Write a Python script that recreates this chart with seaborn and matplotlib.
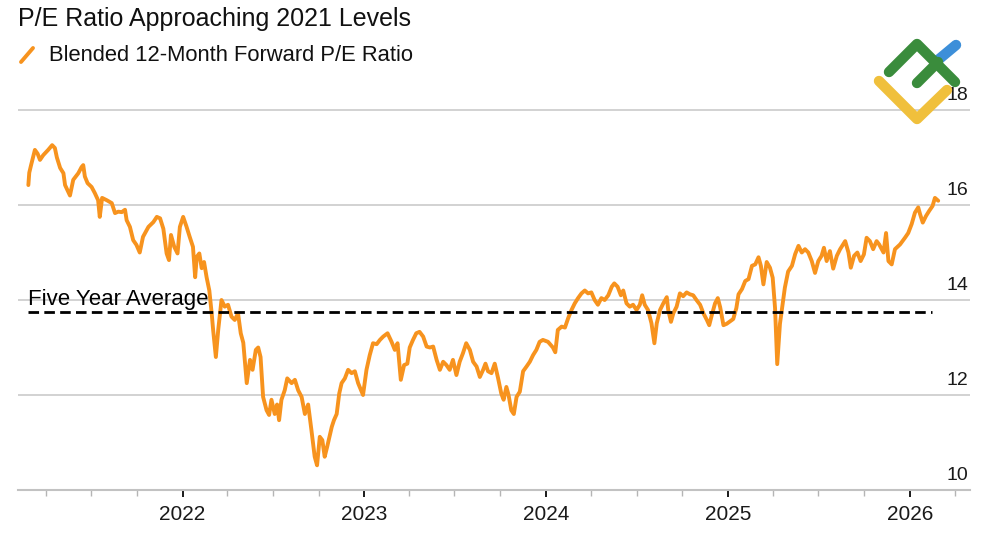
import numpy as np
import pandas as pd
import matplotlib
matplotlib.use("Agg")
import matplotlib.pyplot as plt
import matplotlib.dates as mdates
import matplotlib.transforms as mtransforms
from matplotlib.lines import Line2D
import seaborn as sns

# decimal years, with the blended forward P/E at each
years = [
    2021.151, 2021.156, 2021.166, 2021.187, 2021.202, 2021.215, 2021.233, 2021.260, 2021.282, 2021.297,
    2021.308, 2021.326, 2021.344, 2021.353, 2021.371, 2021.380, 2021.398, 2021.426, 2021.444, 2021.453,
    2021.462, 2021.477, 2021.499, 2021.517, 2021.535, 2021.544, 2021.557, 2021.583, 2021.610, 2021.628,
    2021.646, 2021.665, 2021.683, 2021.692, 2021.710, 2021.728, 2021.746, 2021.764, 2021.782, 2021.812,
    2021.839, 2021.858, 2021.876, 2021.894, 2021.912, 2021.925, 2021.936, 2021.954, 2021.972, 2021.985,
    2022.003, 2022.021, 2022.039, 2022.057, 2022.069, 2022.078, 2022.092, 2022.105, 2022.118, 2022.132,
    2022.147, 2022.160, 2022.168, 2022.183, 2022.196, 2022.214, 2022.232, 2022.250, 2022.269, 2022.287,
    2022.305, 2022.320, 2022.334, 2022.353, 2022.371, 2022.385, 2022.403, 2022.416, 2022.429, 2022.443,
    2022.462, 2022.476, 2022.489, 2022.507, 2022.520, 2022.531, 2022.544, 2022.562, 2022.576, 2022.600,
    2022.618, 2022.636, 2022.655, 2022.673, 2022.691, 2022.709, 2022.727, 2022.740, 2022.755, 2022.769,
    2022.782, 2022.795, 2022.821, 2022.833, 2022.848, 2022.862, 2022.875, 2022.893, 2022.911, 2022.930,
    2022.948, 2022.966, 2022.993, 2023.012, 2023.030, 2023.048, 2023.068, 2023.086, 2023.104, 2023.128,
    2023.150, 2023.168, 2023.183, 2023.201, 2023.219, 2023.237, 2023.250, 2023.268, 2023.286, 2023.304,
    2023.324, 2023.343, 2023.361, 2023.379, 2023.398, 2023.416, 2023.434, 2023.452, 2023.470, 2023.488,
    2023.507, 2023.525, 2023.543, 2023.561, 2023.581, 2023.599, 2023.618, 2023.636, 2023.654, 2023.667,
    2023.681, 2023.700, 2023.718, 2023.736, 2023.754, 2023.767, 2023.782, 2023.794, 2023.809, 2023.823,
    2023.838, 2023.856, 2023.874, 2023.893, 2023.911, 2023.929, 2023.947, 2023.965, 2023.983, 2024.011,
    2024.038, 2024.051, 2024.065, 2024.086, 2024.104, 2024.122, 2024.140, 2024.158, 2024.176, 2024.195,
    2024.213, 2024.231, 2024.249, 2024.267, 2024.285, 2024.304, 2024.322, 2024.342, 2024.361, 2024.375,
    2024.393, 2024.411, 2024.424, 2024.442, 2024.460, 2024.478, 2024.497, 2024.515, 2024.528, 2024.542,
    2024.560, 2024.579, 2024.595, 2024.608, 2024.626, 2024.644, 2024.663, 2024.671, 2024.686, 2024.699,
    2024.717, 2024.735, 2024.753, 2024.772, 2024.790, 2024.808, 2024.826, 2024.846, 2024.864, 2024.883,
    2024.896, 2024.910, 2024.928, 2024.943, 2024.956, 2024.974, 2024.992, 2025.010, 2025.028, 2025.045,
    2025.057, 2025.076, 2025.094, 2025.112, 2025.131, 2025.149, 2025.167, 2025.180, 2025.194, 2025.212,
    2025.230, 2025.245, 2025.258, 2025.270, 2025.285, 2025.300, 2025.312, 2025.330, 2025.351, 2025.369,
    2025.387, 2025.405, 2025.423, 2025.441, 2025.460, 2025.478, 2025.496, 2025.514, 2025.527, 2025.542,
    2025.560, 2025.578, 2025.598, 2025.616, 2025.644, 2025.662, 2025.675, 2025.693, 2025.711, 2025.729,
    2025.747, 2025.762, 2025.780, 2025.798, 2025.817, 2025.831, 2025.855, 2025.869, 2025.882, 2025.900,
    2025.918, 2025.946, 2025.973, 2025.991, 2026.010, 2026.028, 2026.046, 2026.056, 2026.071, 2026.089,
    2026.107, 2026.125, 2026.138, 2026.156,
]
pe_ratio = [
    16.42, 16.68, 16.84, 17.16, 17.08, 16.95, 17.05, 17.16, 17.26, 17.20,
    17.00, 16.78, 16.67, 16.42, 16.27, 16.20, 16.53, 16.67, 16.80, 16.84,
    16.60, 16.46, 16.38, 16.25, 16.10, 15.75, 16.15, 16.10, 16.04, 15.83,
    15.86, 15.85, 15.90, 15.68, 15.54, 15.26, 15.16, 15.00, 15.33, 15.54,
    15.64, 15.75, 15.72, 15.50, 14.98, 14.84, 15.37, 15.12, 14.98, 15.54,
    15.75, 15.55, 15.33, 15.12, 14.48, 14.91, 14.98, 14.67, 14.80, 14.48,
    14.20, 13.72, 13.37, 12.80, 13.37, 14.00, 13.86, 13.90, 13.65, 13.58,
    13.72, 13.30, 13.10, 12.25, 12.74, 12.53, 12.95, 13.00, 12.80, 11.96,
    11.68, 11.58, 11.90, 11.60, 11.80, 11.47, 11.90, 12.10, 12.35, 12.25,
    12.32, 12.10, 11.96, 11.60, 11.80, 11.26, 10.70, 10.52, 11.12, 11.05,
    10.70, 10.90, 11.33, 11.47, 11.60, 12.03, 12.25, 12.35, 12.53, 12.46,
    12.50, 12.25, 12.00, 12.53, 12.84, 13.09, 13.07, 13.16, 13.23, 13.30,
    13.12, 12.95, 13.09, 12.32, 12.63, 12.66, 13.00, 13.16, 13.30, 13.33,
    13.23, 13.02, 13.00, 13.02, 12.74, 12.53, 12.70, 12.63, 12.53, 12.74,
    12.42, 12.70, 12.88, 13.09, 12.95, 12.70, 12.60, 12.38, 12.53, 12.66,
    12.50, 12.46, 12.66, 12.36, 12.03, 11.90, 12.17, 12.00, 11.68, 11.60,
    11.96, 12.07, 12.50, 12.60, 12.70, 12.84, 12.95, 13.12, 13.16, 13.12,
    13.00, 12.90, 13.37, 13.44, 13.42, 13.62, 13.79, 13.93, 14.04, 14.14,
    14.20, 14.14, 14.16, 14.00, 13.90, 14.04, 14.00, 14.10, 14.28, 14.35,
    14.28, 14.10, 14.20, 13.93, 13.86, 13.90, 13.79, 13.90, 14.10, 13.90,
    13.79, 13.51, 13.09, 13.51, 13.79, 13.93, 14.06, 13.79, 13.54, 13.72,
    13.86, 14.14, 14.08, 14.16, 14.12, 14.10, 14.00, 13.90, 13.72, 13.58,
    13.47, 13.68, 13.93, 14.04, 13.85, 13.47, 13.50, 13.55, 13.60, 13.83,
    14.12, 14.23, 14.40, 14.44, 14.72, 14.75, 14.90, 14.72, 14.33, 14.80,
    14.68, 14.47, 13.83, 12.65, 13.50, 13.92, 14.26, 14.60, 14.72, 14.97,
    15.14, 15.00, 15.07, 15.00, 14.82, 14.57, 14.82, 14.93, 15.10, 14.82,
    15.03, 14.66, 14.93, 15.07, 15.24, 15.00, 14.68, 14.93, 15.00, 14.82,
    14.96, 15.31, 15.24, 15.07, 15.24, 15.17, 15.00, 15.41, 14.82, 14.75,
    15.07, 15.17, 15.31, 15.41, 15.60, 15.84, 15.95, 15.81, 15.63, 15.77,
    15.88, 15.98, 16.15, 16.09,
]

five_year_avg = 13.75
five_year_end = 2026.122
y_ticks = [10, 12, 14, 16, 18]
x_start, x_end = 2021.094, 2026.331

title = "P/E Ratio Approaching 2021 Levels"
series_label = "Blended 12-Month Forward P/E Ratio"
avg_label = "Five Year Average"

ORANGE = "#F7931E"
GRID = "#cfcfcf"


def to_date(y):
    yr = int(y)
    start = pd.Timestamp(yr, 1, 1)
    return start + (pd.Timestamp(yr + 1, 1, 1) - start) * (y - yr)


df = pd.DataFrame({"date": [to_date(y) for y in years], "pe": pe_ratio})

sns.set_style("white")
plt.rcParams["font.family"] = ["Liberation Sans", "DejaVu Sans"]

fig = plt.figure(figsize=(10, 5.45), dpi=100)
ax = fig.add_axes([0.018, 0.1009, 0.952, 0.7321])

# gridlines
for v in y_ticks[1:]:
    ax.axhline(v, color=GRID, lw=1.3, zorder=0)

sns.lineplot(data=df, x="date", y="pe", color=ORANGE, linewidth=2.8, ax=ax, zorder=3)

ax.hlines(five_year_avg, to_date(years[0]), to_date(five_year_end), colors="black",
          linestyles=(0, (3.8, 1.9)), lw=2.0, zorder=4)
txt_tr = mtransforms.offset_copy(ax.transData, fig=fig, x=0, y=5, units="points")
ax.text(to_date(years[0]), five_year_avg, avg_label, transform=txt_tr,
        ha="left", va="baseline", fontsize=16, color="black", zorder=5)

ax.set_xlim(to_date(x_start), to_date(x_end))
ax.set_ylim(10, 18.4)
ax.set_xlabel("")
ax.set_ylabel("")

# y labels sit above the gridlines at the right
ax.set_yticks([])
lab_tr = mtransforms.offset_copy(
    mtransforms.blended_transform_factory(ax.transAxes, ax.transData),
    fig=fig, x=0, y=4, units="points")
for v in y_ticks:
    ax.text(0.9985, v, str(v), transform=lab_tr, ha="right", va="bottom",
            fontsize=14, color="#1a1a1a")

ax.xaxis.set_major_locator(mdates.YearLocator())
ax.xaxis.set_major_formatter(mdates.DateFormatter("%Y"))
ax.xaxis.set_minor_locator(mdates.MonthLocator(bymonth=[1, 4, 7, 10]))
ax.tick_params(axis="x", which="both", bottom=True, direction="out")
ax.tick_params(axis="x", which="major", length=5, width=1.4, color="#1a1a1a",
               labelsize=15, pad=6, labelcolor="#1a1a1a")
ax.tick_params(axis="x", which="minor", length=4.3, width=1.0, color="#b5b5b5")

for s in ["top", "left", "right"]:
    ax.spines[s].set_visible(False)
ax.spines["bottom"].set_color("#c2c2c2")
ax.spines["bottom"].set_linewidth(1.5)

# title and legend
fig.text(0.018, 1 - 19 / 545, title, fontsize=18, va="center", ha="left", color="#111111")
fig.add_artist(Line2D([21 / 1000, 33 / 1000], [1 - 62 / 545, 1 - 48 / 545],
                      color=ORANGE, lw=2.8, solid_capstyle="round"))
fig.text(0.049, 1 - 55 / 545, series_label, fontsize=15.8, va="center", ha="left", color="#111111")


# logo in the corner
def logo_line(pts, color):
    xs = [p[0] / 1000 for p in pts]
    ys = [1 - p[1] / 545 for p in pts]
    fig.add_artist(Line2D(xs, ys, color=color, lw=7.5, solid_capstyle="round",
                          solid_joinstyle="round", zorder=10))


logo_line([(938, 60), (956, 45)], "#3D8FD9")
logo_line([(879, 81), (917, 119), (947, 90)], "#F0C03C")
logo_line([(889, 72), (917, 44), (955, 82)], "#3A8C3C")
logo_line([(917, 83), (938, 62)], "#3A8C3C")

fig.savefig("out.png", dpi=100)
